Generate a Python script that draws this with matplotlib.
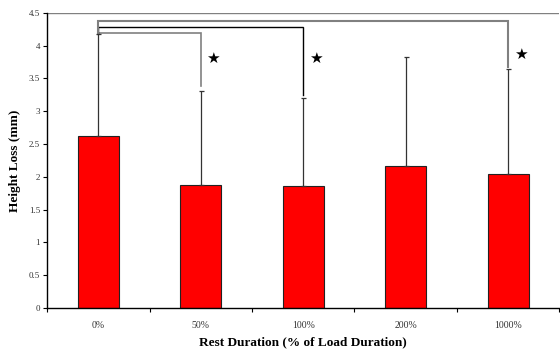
import numpy as np
import matplotlib
matplotlib.use('Agg')
import matplotlib.pyplot as plt

# data
categories = ['0%', '50%', '100%', '200%', '1000%']
height_loss = [2.62, 1.88, 1.855, 2.17, 2.04]
upper_err = [1.55, 1.43, 1.345, 1.66, 1.60]

# significance brackets: (from, to, bracket height, right leg bottom)
brackets = [(0, 1, 4.19, 3.38), (0, 2, 4.28, 3.25), (0, 4, 4.38, 3.68)]
bracket_colors = ['#808080', '#000000', '#808080']
bracket_widths = [1.2, 1.0, 1.5]
stars = [(1, 3.81), (2, 3.81), (4, 3.86)]

plt.rcParams['font.family'] = ['Liberation Serif', 'DejaVu Serif']

fig = plt.figure(figsize=(5.6, 3.5), dpi=100)
ax = fig.add_axes([0.084, 0.12, 0.915, 0.8437])

x = np.arange(len(categories))
ax.bar(x, height_loss, width=0.4, color='#ff0000', edgecolor='#222222', linewidth=0.8, zorder=2)
ax.errorbar(x, height_loss, yerr=[np.zeros(len(x)), upper_err], fmt='none',
            ecolor='#333333', elinewidth=0.9, capsize=1.8, capthick=0.9, zorder=3)

for (i, j, h, bottom), c, lw in zip(brackets, bracket_colors, bracket_widths):
    ax.plot([x[i], x[i], x[j], x[j]], [height_loss[i] + upper_err[i], h, h, bottom],
            color=c, linewidth=lw, zorder=1, solid_joinstyle='miter')

for k, y in stars:
    ax.text(x[k] + 0.12, y, '\u2605', family='DejaVu Sans', fontsize=11,
            ha='center', va='center', color='black')

ax.axhline(4.5, color='#808080', linewidth=1.0, zorder=0)

ax.set_xlim(-0.5, 4.5)
ax.set_ylim(0, 4.5)
ax.set_yticks(np.arange(0, 4.51, 0.5))
ax.set_yticklabels(['0', '0.5', '1', '1.5', '2', '2.5', '3', '3.5', '4', '4.5'])
ax.set_xticks(np.arange(-0.5, 4.6, 1.0))
ax.set_xticklabels([])
ax.set_xticks(x, minor=True)
ax.set_xticklabels(categories, minor=True)
ax.tick_params(axis='x', which='minor', length=0, pad=9, labelsize=7, labelcolor='#333333')
ax.tick_params(axis='x', which='major', length=3, direction='out', width=0.8)
ax.tick_params(axis='y', length=3, direction='out', width=0.8, labelsize=6.5, labelcolor='#333333', pad=2)

for s in ['top', 'right']:
    ax.spines[s].set_visible(False)
ax.spines['left'].set_linewidth(1.0)
ax.spines['bottom'].set_linewidth(1.0)

ax.set_xlabel('Rest Duration (% of Load Duration)', fontsize=9.5, fontweight='bold', labelpad=5)
ax.set_ylabel('Height Loss (mm)', fontsize=9.5, fontweight='bold', labelpad=6)

fig.savefig('out.png', dpi=100)
